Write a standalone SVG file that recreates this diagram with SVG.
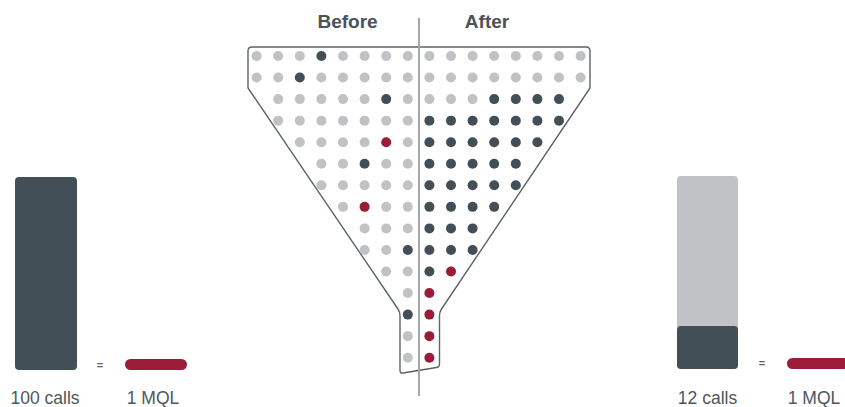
<svg xmlns="http://www.w3.org/2000/svg" width="845" height="407" viewBox="0 0 845 407">
<style>
.g{fill:#c1c2c6}.d{fill:#434f57}.r{fill:#9b1c37}
.hd{font-family:"Liberation Sans",Arial,sans-serif;font-weight:bold;font-size:19px;fill:#4a535a;text-anchor:middle}
.lb{font-family:"Liberation Sans",Arial,sans-serif;font-size:17.5px;fill:#4e575e;text-anchor:middle}
.eq{font-family:"Liberation Sans",Arial,sans-serif;font-size:11px;font-weight:bold;fill:#5a6268;text-anchor:middle}
</style>
<rect width="845" height="407" fill="#fff"/>
<g id="funnel">
<path d="M248,88 V51 Q248,47 252,47 H586 Q590,47 590,51 V88 L441.5,309 Q439.5,312 439.5,316 V364 Q439.5,367 436.5,367.5 L403,373 Q400,373.5 400,370.5 V316 Q400,312 398,309 Z" fill="none" stroke="#5b6369" stroke-width="1.4" stroke-linejoin="round"/>
</g>
<g id="dots">
<!-- row 0 -->
<circle class="g" cx="256.6" cy="56" r="5"/><circle class="g" cx="278.2" cy="56" r="5"/><circle class="g" cx="299.8" cy="56" r="5"/><circle class="d" cx="321.4" cy="56" r="5"/><circle class="g" cx="343" cy="56" r="5"/><circle class="g" cx="364.6" cy="56" r="5"/><circle class="g" cx="386.2" cy="56" r="5"/><circle class="g" cx="407.8" cy="56" r="5"/><circle class="g" cx="429.4" cy="56" r="5"/><circle class="g" cx="451" cy="56" r="5"/><circle class="g" cx="472.6" cy="56" r="5"/><circle class="g" cx="494.2" cy="56" r="5"/><circle class="g" cx="515.8" cy="56" r="5"/><circle class="g" cx="537.4" cy="56" r="5"/><circle class="g" cx="559" cy="56" r="5"/><circle class="g" cx="580.6" cy="56" r="5"/>
<!-- row 1 -->
<circle class="g" cx="256.6" cy="77.55" r="5"/><circle class="g" cx="278.2" cy="77.55" r="5"/><circle class="d" cx="299.8" cy="77.55" r="5"/><circle class="g" cx="321.4" cy="77.55" r="5"/><circle class="g" cx="343" cy="77.55" r="5"/><circle class="g" cx="364.6" cy="77.55" r="5"/><circle class="g" cx="386.2" cy="77.55" r="5"/><circle class="g" cx="407.8" cy="77.55" r="5"/><circle class="g" cx="429.4" cy="77.55" r="5"/><circle class="g" cx="451" cy="77.55" r="5"/><circle class="g" cx="472.6" cy="77.55" r="5"/><circle class="g" cx="494.2" cy="77.55" r="5"/><circle class="g" cx="515.8" cy="77.55" r="5"/><circle class="g" cx="537.4" cy="77.55" r="5"/><circle class="g" cx="559" cy="77.55" r="5"/><circle class="g" cx="580.6" cy="77.55" r="5"/>
<!-- row 2 -->
<circle class="g" cx="278.2" cy="99.1" r="5"/><circle class="g" cx="299.8" cy="99.1" r="5"/><circle class="g" cx="321.4" cy="99.1" r="5"/><circle class="g" cx="343" cy="99.1" r="5"/><circle class="g" cx="364.6" cy="99.1" r="5"/><circle class="d" cx="386.2" cy="99.1" r="5"/><circle class="g" cx="407.8" cy="99.1" r="5"/><circle class="g" cx="429.4" cy="99.1" r="5"/><circle class="g" cx="451" cy="99.1" r="5"/><circle class="g" cx="472.6" cy="99.1" r="5"/><circle class="d" cx="494.2" cy="99.1" r="5"/><circle class="d" cx="515.8" cy="99.1" r="5"/><circle class="d" cx="537.4" cy="99.1" r="5"/><circle class="d" cx="559" cy="99.1" r="5"/>
<!-- row 3 -->
<circle class="g" cx="278.2" cy="120.65" r="5"/><circle class="g" cx="299.8" cy="120.65" r="5"/><circle class="g" cx="321.4" cy="120.65" r="5"/><circle class="g" cx="343" cy="120.65" r="5"/><circle class="g" cx="364.6" cy="120.65" r="5"/><circle class="g" cx="386.2" cy="120.65" r="5"/><circle class="g" cx="407.8" cy="120.65" r="5"/><circle class="d" cx="429.4" cy="120.65" r="5"/><circle class="d" cx="451" cy="120.65" r="5"/><circle class="d" cx="472.6" cy="120.65" r="5"/><circle class="d" cx="494.2" cy="120.65" r="5"/><circle class="d" cx="515.8" cy="120.65" r="5"/><circle class="d" cx="537.4" cy="120.65" r="5"/><circle class="d" cx="559" cy="120.65" r="5"/>
<!-- row 4 -->
<circle class="g" cx="299.8" cy="142.2" r="5"/><circle class="g" cx="321.4" cy="142.2" r="5"/><circle class="g" cx="343" cy="142.2" r="5"/><circle class="g" cx="364.6" cy="142.2" r="5"/><circle class="r" cx="386.2" cy="142.2" r="5"/><circle class="g" cx="407.8" cy="142.2" r="5"/><circle class="d" cx="429.4" cy="142.2" r="5"/><circle class="d" cx="451" cy="142.2" r="5"/><circle class="d" cx="472.6" cy="142.2" r="5"/><circle class="d" cx="494.2" cy="142.2" r="5"/><circle class="d" cx="515.8" cy="142.2" r="5"/><circle class="d" cx="537.4" cy="142.2" r="5"/>
<!-- row 5 -->
<circle class="g" cx="321.4" cy="163.75" r="5"/><circle class="g" cx="343" cy="163.75" r="5"/><circle class="d" cx="364.6" cy="163.75" r="5"/><circle class="g" cx="386.2" cy="163.75" r="5"/><circle class="g" cx="407.8" cy="163.75" r="5"/><circle class="d" cx="429.4" cy="163.75" r="5"/><circle class="d" cx="451" cy="163.75" r="5"/><circle class="d" cx="472.6" cy="163.75" r="5"/><circle class="d" cx="494.2" cy="163.75" r="5"/><circle class="d" cx="515.8" cy="163.75" r="5"/>
<!-- row 6 -->
<circle class="g" cx="321.4" cy="185.3" r="5"/><circle class="g" cx="343" cy="185.3" r="5"/><circle class="g" cx="364.6" cy="185.3" r="5"/><circle class="g" cx="386.2" cy="185.3" r="5"/><circle class="g" cx="407.8" cy="185.3" r="5"/><circle class="d" cx="429.4" cy="185.3" r="5"/><circle class="d" cx="451" cy="185.3" r="5"/><circle class="d" cx="472.6" cy="185.3" r="5"/><circle class="d" cx="494.2" cy="185.3" r="5"/><circle class="d" cx="515.8" cy="185.3" r="5"/>
<!-- row 7 -->
<circle class="g" cx="343" cy="206.85" r="5"/><circle class="r" cx="364.6" cy="206.85" r="5"/><circle class="g" cx="386.2" cy="206.85" r="5"/><circle class="g" cx="407.8" cy="206.85" r="5"/><circle class="d" cx="429.4" cy="206.85" r="5"/><circle class="d" cx="451" cy="206.85" r="5"/><circle class="d" cx="472.6" cy="206.85" r="5"/><circle class="d" cx="494.2" cy="206.85" r="5"/>
<!-- row 8 -->
<circle class="g" cx="364.6" cy="228.4" r="5"/><circle class="g" cx="386.2" cy="228.4" r="5"/><circle class="g" cx="407.8" cy="228.4" r="5"/><circle class="d" cx="429.4" cy="228.4" r="5"/><circle class="d" cx="451" cy="228.4" r="5"/><circle class="d" cx="472.6" cy="228.4" r="5"/>
<!-- row 9 -->
<circle class="g" cx="364.6" cy="249.95" r="5"/><circle class="g" cx="386.2" cy="249.95" r="5"/><circle class="d" cx="407.8" cy="249.95" r="5"/><circle class="d" cx="429.4" cy="249.95" r="5"/><circle class="d" cx="451" cy="249.95" r="5"/><circle class="d" cx="472.6" cy="249.95" r="5"/>
<!-- row 10 -->
<circle class="g" cx="386.2" cy="271.5" r="5"/><circle class="g" cx="407.8" cy="271.5" r="5"/><circle class="d" cx="429.4" cy="271.5" r="5"/><circle class="r" cx="451" cy="271.5" r="5"/>
<!-- rows 11-14 -->
<circle class="g" cx="407.8" cy="293.05" r="5"/><circle class="r" cx="429.4" cy="293.05" r="5"/>
<circle class="d" cx="407.8" cy="314.6" r="5"/><circle class="r" cx="429.4" cy="314.6" r="5"/>
<circle class="g" cx="407.8" cy="336.15" r="5"/><circle class="r" cx="429.4" cy="336.15" r="5"/>
<circle class="g" cx="407.8" cy="357.7" r="5"/><circle class="r" cx="429.4" cy="357.7" r="5"/>
</g>
<g id="divider">
<line x1="419" y1="18" x2="419" y2="396" stroke="#a3a7ab" stroke-width="2"/>
</g>
<g id="before-label"><text class="hd" x="347.5" y="27.5">Before</text></g>
<g id="after-label"><text class="hd" x="487" y="27.5">After</text></g>
<g id="before-bars">
<rect x="15" y="177" width="62" height="193" rx="4" class="d"/>
<text class="eq" x="100" y="369">=</text>
<rect x="125" y="359" width="62" height="11" rx="5.5" class="r"/>
<text class="lb" x="45" y="404">100 calls</text>
<text class="lb" x="153" y="404">1 MQL</text>
</g>
<g id="after-bars">
<rect x="677" y="176" width="61" height="193" rx="4" class="g"/>
<rect x="677" y="326" width="61" height="43" rx="4" class="d"/>
<text class="eq" x="762" y="367">=</text>
<rect x="787" y="358" width="62" height="11" rx="5.5" class="r"/>
<text class="lb" x="707.5" y="404">12 calls</text>
<text class="lb" x="814" y="404">1 MQL</text>
</g>
</svg>
